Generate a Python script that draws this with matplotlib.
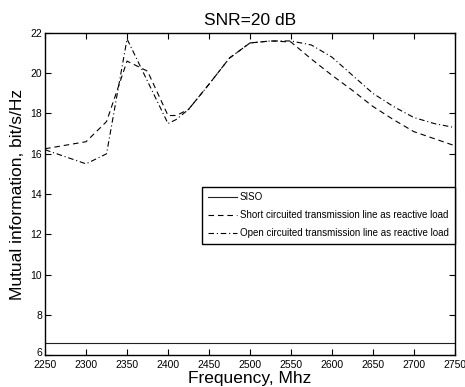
import matplotlib
matplotlib.use('Agg')
import matplotlib.pyplot as plt
import matplotlib.transforms as mtransforms

plt.rcParams['font.family'] = ['Liberation Sans', 'DejaVu Sans']

# frequency samples, MHz
freq = [2250, 2300, 2325, 2350, 2375, 2400, 2410, 2425, 2450, 2475, 2500,
        2525, 2550, 2575, 2600, 2625, 2650, 2675, 2700, 2725, 2750]
siso = [6.62] * len(freq)
short_tl = [16.25, 16.6, 17.6, 20.6, 20.1, 17.9, 17.9, 18.2, 19.45, 20.75, 21.5,
            21.6, 21.55, 20.7, 19.9, 19.15, 18.35, 17.7, 17.1, 16.75, 16.4]
open_tl = [16.2, 15.5, 16.0, 21.7, 19.6, 17.5, 17.7, 18.2, 19.45, 20.75, 21.5,
           21.6, 21.6, 21.4, 20.8, 19.9, 19.0, 18.35, 17.8, 17.5, 17.3]

labels = ['SISO',
          'Short circuited transmission line as reactive load',
          'Open circuited transmission line as reactive load']

fig = plt.figure(figsize=(4.65, 3.87), dpi=100)
ax = fig.add_axes([0.097, 0.082, 0.881, 0.833])

ax.plot(freq, siso, '-', color='#222222', lw=0.8, label=labels[0])
ax.plot(freq, short_tl, color='black', lw=0.8, dashes=(5, 3.5), label=labels[1])
ax.plot(freq, open_tl, color='black', lw=0.8, dashes=(5, 2.5, 1, 2.5), label=labels[2])

ax.set_xlim(2250, 2750)
ax.set_ylim(6, 22)
ax.set_xticks(range(2250, 2751, 50))
ax.set_yticks(range(6, 23, 2))
ax.tick_params(direction='in', top=True, right=True, labelsize=7.5,
               length=4, width=0.8)
ax.tick_params(axis='x', pad=3.5)
ax.tick_params(axis='y', pad=2)
for s in ax.spines.values():
    s.set_linewidth(1.0)

# lift the bottom y label a little so it sits just above "2250"
lbl = ax.get_yticklabels()[0]
lbl.set_transform(lbl.get_transform() +
                  mtransforms.ScaledTranslation(0, 2.5 / 72, fig.dpi_scale_trans))

ax.set_title('SNR=20 dB', fontsize=12.5, pad=6)
ax.set_xlabel('Frequency, Mhz', fontsize=12.5, labelpad=0.5)
ax.set_ylabel('Mutual information, bit/s/Hz', fontsize=12.5, labelpad=4)

leg = ax.legend(loc='upper right', bbox_to_anchor=(1.0, 0.523), fontsize=7,
                fancybox=False, framealpha=1, edgecolor='black',
                handlelength=3.0, borderpad=0.6, labelspacing=0.8,
                handletextpad=0.3, borderaxespad=0)
leg.get_frame().set_linewidth(1.0)

plt.savefig('out.png', dpi=100)
